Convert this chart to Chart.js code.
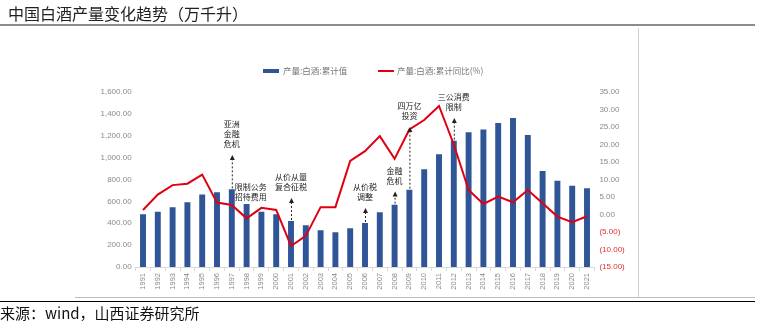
<!DOCTYPE html>
<html>
<head>
<meta charset="utf-8">
<script src="https://cdn.jsdelivr.net/npm/chart.js@4/dist/chart.umd.min.js"></script>
<style>
  html,body{margin:0;padding:0;background:#fff;width:771px;height:323px;overflow:hidden;position:relative;}
  #title{position:absolute;left:8px;top:2px;font:16px "Noto Sans CJK SC",sans-serif;color:#222;line-height:22px;white-space:nowrap;}
  #tline{position:absolute;left:0;top:24px;width:755px;height:2px;background:#8c8c8c;}
  #bgray{position:absolute;left:75px;top:297px;width:680px;height:1px;background:#bdbdbd;}
  #bblack{position:absolute;left:0;top:301px;width:755px;height:1px;background:#000;}
  #src{position:absolute;left:0;top:303px;font:15px "Noto Sans CJK SC",serif;color:#111;line-height:19px;white-space:nowrap;}
  #rline{position:absolute;left:638px;top:28px;width:1px;height:269px;background:#d0d0d0;}
  canvas{position:absolute;left:0;top:0;}
</style>
</head>
<body>
<canvas id="c" width="771" height="323"></canvas>
<div id="title">中国白酒产量变化趋势（万千升）</div>
<div id="tline"></div>
<div id="rline"></div>
<div id="bgray"></div>
<div id="bblack"></div>
<div id="src">来源：wind，山西证券研究所</div>
<script>
const years = ['1991','1992','1993','1994','1995','1996','1997','1998','1999','2000','2001','2002','2003','2004','2005','2006','2007','2008','2009','2010','2011','2012','2013','2014','2015','2016','2017','2018','2019','2020','2021'];
const production = [482,505,546,591,664,683,710,576,505,482,420,381,335,317,354,402,500,570,707,893,1030,1155,1231,1258,1316,1362,1207,877,789,743,719];
const yoyGrowth = [1.3,5.7,8.4,8.8,11.4,3.4,2.7,-1.1,1.9,1.3,-9.0,-6.1,2.1,2.1,15.3,18.1,22.4,15.9,24.3,27.0,31.0,20.0,7.0,3.0,5.1,3.5,7.0,3.2,-0.6,-2.2,-0.5];
const seriesNames = ['产量:白酒:累计值','产量:白酒:累计同比(%)'];
const leftTicks = {min:0,max:1600,step:200};
const rightTicks = {min:-15,max:35,step:5};
// annotations: year, text lines, arrow tip (left-axis value), text placement
const notes = [
  {year:'1997', lines:['亚洲','金融','危机'], tip:1024, arrow:true},
  {year:'1997', lines:['限制公务','招待费用'], side:true},
  {year:'2001', lines:['从价从量','复合征税'], tip:631, arrow:true},
  {year:'2006', lines:['从价税','调整'], tip:540, arrow:true},
  {year:'2008', lines:['金融','危机'], tip:690, arrow:true},
  {year:'2009', lines:['四万亿','投资'], tip:1280, arrow:true},
  {year:'2012', lines:['三公消费','限制'], tip:1362, arrow:true}
];

const BLUE='#2f5597', RED='#e00012', GRAY='#8a8a8a';
const tickFont={family:'"Liberation Sans", Arial, sans-serif', size:8};

const overlay = {
  id:'overlay',
  afterDatasetsDraw(chart){
    const ctx=chart.ctx, xs=chart.scales.x, ys=chart.scales.y;
    ctx.save();
    // legend
    ctx.fillStyle=BLUE; ctx.fillRect(263,69,16,4);
    ctx.font='8.5px "Noto Sans CJK SC", sans-serif';
    ctx.textBaseline='middle'; ctx.textAlign='left';
    ctx.fillStyle='#777';
    ctx.fillText(seriesNames[0],283,71);
    ctx.strokeStyle=RED; ctx.lineWidth=2;
    ctx.beginPath(); ctx.moveTo(378,71); ctx.lineTo(394,71); ctx.stroke();
    ctx.fillText(seriesNames[1],397,71);
    // annotations
    ctx.font='8px "Noto Sans CJK SC", sans-serif';
    ctx.fillStyle='#222';
    notes.forEach(n=>{
      const i=years.indexOf(n.year);
      const x=xs.getPixelForValue(i);
      const barTop=ys.getPixelForValue(production[i]);
      if(n.side){
        ctx.textAlign='left';
        n.lines.forEach((t,k)=>ctx.fillText(t,x+3,barTop-2+k*10));
        return;
      }
      const tipY=ys.getPixelForValue(n.tip);
      ctx.strokeStyle='#222'; ctx.lineWidth=1; ctx.setLineDash([2,2]);
      ctx.beginPath(); ctx.moveTo(x+0.5,barTop-1); ctx.lineTo(x+0.5,tipY+4); ctx.stroke();
      ctx.setLineDash([]);
      ctx.beginPath(); ctx.moveTo(x+0.5,tipY); ctx.lineTo(x-2,tipY+5); ctx.lineTo(x+3,tipY+5); ctx.closePath(); ctx.fill();
      ctx.textAlign='center';
      const L=n.lines.length;
      n.lines.forEach((t,k)=>ctx.fillText(t,x,tipY-11-(L-1-k)*10));
    });
    ctx.restore();
  }
};

new Chart(document.getElementById('c'),{
  data:{
    labels:years,
    datasets:[
      {type:'line',label:seriesNames[1],data:yoyGrowth,yAxisID:'y1',borderColor:RED,backgroundColor:RED,borderWidth:2,pointRadius:0,tension:0,order:1},
      {type:'bar',label:seriesNames[0],data:production,yAxisID:'y',backgroundColor:BLUE,barPercentage:0.4,categoryPercentage:1.0,order:2}
    ]
  },
  options:{
    responsive:false,animation:false,
    layout:{padding:{top:92,left:0,right:0,bottom:0}},
    plugins:{legend:{display:false},tooltip:{enabled:false}},
    scales:{
      x:{
        offset:true,
        grid:{offset:true,drawOnChartArea:false,drawTicks:true,tickLength:4,color:'#d9d9d9'},
        border:{color:'#d9d9d9'},
        ticks:{color:GRAY,font:{family:tickFont.family,size:7.5},minRotation:90,maxRotation:90,autoSkip:false,padding:2},
        afterFit(s){s.height=56;}
      },
      y:{
        position:'left',min:leftTicks.min,max:leftTicks.max,
        grid:{display:false,drawTicks:false},border:{display:false},
        ticks:{stepSize:leftTicks.step,color:GRAY,font:tickFont,padding:4,
          callback:v=>v.toLocaleString('en-US',{minimumFractionDigits:2,maximumFractionDigits:2})},
        afterFit(s){s.width=135.6;}
      },
      y1:{
        position:'right',min:rightTicks.min,max:rightTicks.max,
        grid:{display:false,drawTicks:false},border:{display:false},
        ticks:{stepSize:rightTicks.step,font:tickFont,padding:5,
          color:c=>c.tick.value<0?'#e03030':GRAY,
          callback:v=>v<0?'('+Math.abs(v).toFixed(2)+')':v.toFixed(2)},
        afterFit(s){s.width=176.6;}
      }
    }
  },
  plugins:[overlay]
});
</script>
</body>
</html>
